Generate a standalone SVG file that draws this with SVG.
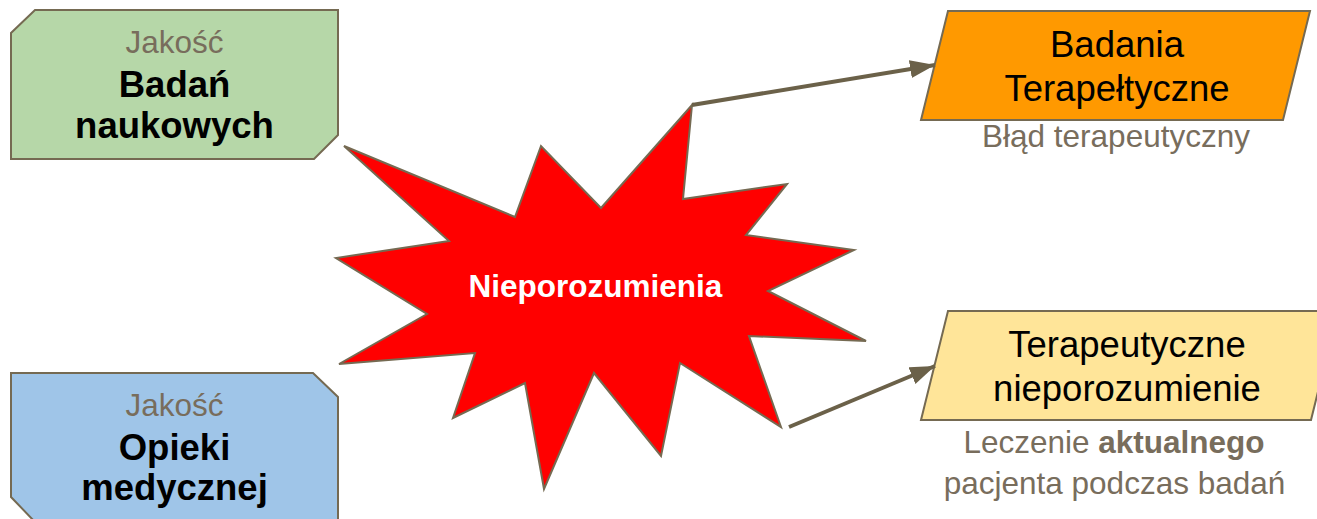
<svg xmlns="http://www.w3.org/2000/svg" width="1317" height="519" viewBox="0 0 1317 519">
<style>
.box{stroke:#756a52;stroke-width:2;stroke-linejoin:miter}
.t{font-family:"Liberation Sans",Arial,sans-serif;text-anchor:middle}
.sub{font-size:31.5px;fill:#786d5c}
.big{font-size:36.5px;font-weight:bold;fill:#000}
.main{font-size:36.5px;fill:#000}
.conn{stroke:#6b6149;stroke-width:4;fill:none}
</style>
<defs>
<marker id="ah" markerUnits="userSpaceOnUse" markerWidth="27" markerHeight="20" refX="25" refY="9" orient="auto">
<path d="M0,0 L25,9 L0,18 Z" fill="#6b6149"/>
</marker>
</defs>
<rect width="1317" height="519" fill="#ffffff"/>
<g id="node-badan">
<polygon class="box" fill="#b6d7a8" points="35,10 338,10 338,135 314,159 11,159 11,33"/>
<text class="t sub" x="174.5" y="53">Jakość</text>
<text class="t big" x="174.5" y="97">Badań</text>
<text class="t big" x="174.5" y="138">naukowych</text>
</g>
<g id="node-opieki">
<polygon class="box" fill="#9fc5e8" points="11,373 313,373 338,397 338,522 35,522 11,497"/>
<text class="t sub" x="174.5" y="416">Jakość</text>
<text class="t big" x="174.5" y="460">Opieki</text>
<text class="t big" x="174.5" y="500">medycznej</text>
</g>
<g id="node-nieporozumienia">
<polygon class="box" fill="#ff0000" points="344,146 515,217 541,146 601,208 692,105 683,199 787,184 746,235 854,250 768,291 866,341 749,336 781,427 680,363 661,456 594,373 544,489 525,383 453,418 475,353 339,364 427,314 336,258 449,241"/>
<text class="t" x="595.5" y="297" font-size="31.5" font-weight="bold" fill="#ffffff">Nieporozumienia</text>
</g>
<g id="node-badania-terapeutyczne">
<polygon class="box" fill="#ff9900" points="948,11 1310,11 1283,120 921,120"/>
<text class="t main" x="1117" y="57">Badania</text>
<text class="t main" x="1117" y="101">Terapełtyczne</text>
<text class="t sub" x="1116" y="147">Błąd terapeutyczny</text>
</g>
<g id="node-terapeutyczne-nieporozumienie">
<polygon class="box" fill="#ffe599" points="948,311 1338,311 1311,420 921,420"/>
<text class="t main" x="1127" y="357" font-size="37">Terapeutyczne</text>
<text class="t main" x="1127" y="401" font-size="37">nieporozumienie</text>
<text class="t sub" x="1114" y="453">Leczenie <tspan font-weight="bold">aktualnego</tspan></text>
<text class="t sub" x="1114.5" y="494">pacjenta podczas badań</text>
</g>
<g id="connectors">
<line class="conn" x1="692" y1="105" x2="935" y2="65" marker-end="url(#ah)"/>
<line class="conn" x1="789" y1="427" x2="935" y2="366" marker-end="url(#ah)"/>
</g>
</svg>
